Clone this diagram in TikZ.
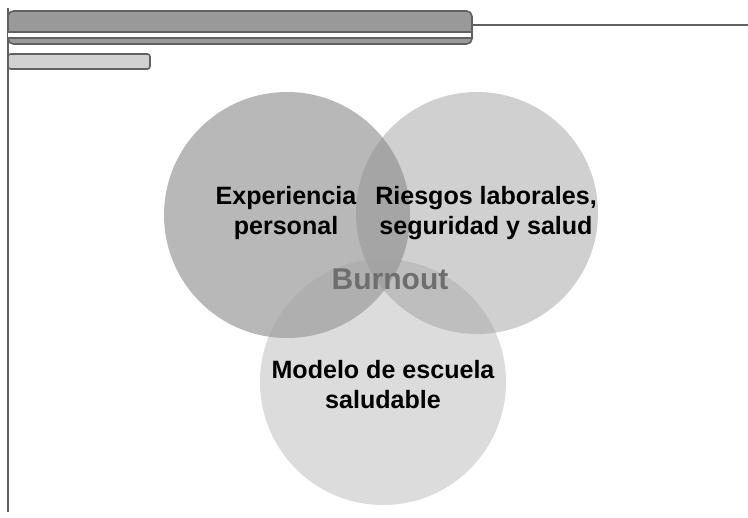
\documentclass[tikz,border=0pt]{standalone}
\usepackage{fontspec}
\setmainfont{Liberation Sans}
\usepackage{xcolor}
\usepackage{tikz}

\definecolor{bardark}{gray}{0.60}
\definecolor{barlight}{gray}{0.82}
\definecolor{edge}{gray}{0.38}
\definecolor{expgray}{gray}{0.72}
\definecolor{riesgray}{gray}{0.54}
\definecolor{modgray}{gray}{0.63}

\tikzset{
  blob/.style={circle, minimum size=184.5pt, inner sep=0pt},
  lbl/.style={font=\bfseries\fontsize{18.8}{22.5}\selectfont, align=center, text=black}
}

\begin{document}
\begin{tikzpicture}[x=0.75pt, y=-0.75pt]
        \useasboundingbox (0,0) rectangle (748,517);

        \draw[edge, line width=1.2] (8,8) -- (8,512);
        \draw[edge, line width=1.2] (466,25) -- (748,25);

        \draw[edge, line width=1.2, fill=bardark, rounded corners=4] (8,44) rectangle (472,11);
        \draw[edge, line width=1.2, fill=white] (8,32) -- (472,32) -- (472,38) -- (8,38);
        \draw[edge, line width=1.2, fill=barlight, rounded corners=2] (8,54) rectangle (150,69);

        \node[blob, fill=expgray] (exp) at (287,215) {};
        \node[blob, fill=riesgray, fill opacity=0.4, minimum size=181.5pt] (ries) at (477,213) {};
        \node[blob, fill=modgray, fill opacity=0.375] (mod) at (383,382) {};

        \node[lbl] (texp) at (286,213) {Experiencia\\personal};
        \node[lbl] (tries) at (486,213) {Riesgos laborales,\\seguridad y salud};
        \node[lbl] (tmod) at (383,385) {Modelo de escuela\\saludable};
        \node[font=\bfseries\fontsize{22.5}{27}\selectfont, text=black!57] (burn) at (390,279) {Burnout};

    \end{tikzpicture}
\end{document}
